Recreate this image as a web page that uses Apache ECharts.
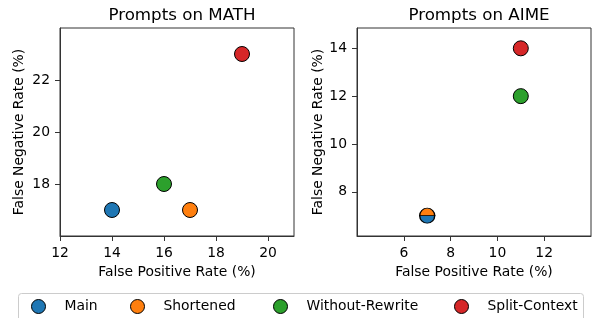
<!DOCTYPE html>
<html>
<head>
<meta charset="utf-8">
<script src="https://cdn.jsdelivr.net/npm/echarts@6/dist/echarts.min.js"></script>
<style>
    html, body { margin: 0; padding: 0; background: #fff; }
    #chart { width: 592px; height: 318px; }
</style>
</head>
<body>
<div id="chart"></div>
<script>
    // prompt variants and their colours (matplotlib tab10)
    var methods = ['Main', 'Shortened', 'Without-Rewrite', 'Split-Context'];
    var colors = ['#1f77b4', '#ff7f0e', '#2ca02c', '#d62728'];

    // MATH panel
    var mathFpr = [14, 17, 16, 19];
    var mathFnr = [17, 17, 18, 23];
    var mathXTicks = [12, 14, 16, 18, 20];
    var mathYTicks = [18, 20, 22];

    // AIME panel
    var aimeFpr = [7, 7, 11, 11];
    var aimeFnr = [7, 7, 12, 14];
    var aimeXTicks = [6, 8, 10, 12];
    var aimeYTicks = [8, 10, 12, 14];

    var font = 'DejaVu Sans';
    var axisColor = '#333';

    // half circles for points that sit on top of each other
    var topHalf = 'path://M0,10 A10,10 0 0 1 20,10 Z';
    var bottomHalf = 'path://M0,0 A10,10 0 0 0 20,0 Z';

    // left edge of each legend marker, like the matplotlib legend
    var legendLefts = [31, 130, 273, 454];

    function makeAxis(idx, min, max, ticks, name, gap) {
        return {
            type: 'value',
            gridIndex: idx,
            min: min,
            max: max,
            name: name,
            nameLocation: 'middle',
            nameGap: gap,
            nameTextStyle: { fontFamily: font, fontSize: 13.9, color: '#000' },
            axisLine: { show: true, onZero: false, lineStyle: { color: axisColor, width: 1 } },
            axisTick: { show: true, inside: false, length: 5, customValues: ticks, lineStyle: { color: axisColor } },
            axisLabel: { show: true, margin: 10, customValues: ticks, fontFamily: font, fontSize: 13.9, color: '#000' },
            splitLine: { show: false }
        };
    }

    var series = [];
    methods.forEach(function (m, i) {
        series.push({
            name: m,
            type: 'scatter',
            xAxisIndex: 0,
            yAxisIndex: 0,
            symbol: 'circle',
            symbolSize: 15,
            itemStyle: { color: colors[i], borderColor: '#000', borderWidth: 1, opacity: 1 },
            data: [[mathFpr[i], mathFnr[i]]]
        });
    });
    methods.forEach(function (m, i) {
        // Main and Shortened share the same AIME point -> split marker
        var sym = 'circle', size = 15, off = [0, 0];
        if (i === 0) { sym = bottomHalf; size = [15, 7.5]; off = [0, '50%']; }
        if (i === 1) { sym = topHalf; size = [15, 7.5]; off = [0, '-50%']; }
        series.push({
            name: m,
            type: 'scatter',
            xAxisIndex: 1,
            yAxisIndex: 1,
            symbol: sym,
            symbolSize: size,
            symbolOffset: off,
            itemStyle: { color: colors[i], borderColor: '#000', borderWidth: 1, opacity: 1 },
            data: [[aimeFpr[i], aimeFnr[i]]]
        });
    });

    // one legend per item so each entry can be placed on its own
    var legends = methods.map(function (m, i) {
        return {
            left: legendLefts[i],
            top: 299,
            padding: 0,
            itemWidth: 14,
            itemHeight: 14,
            data: [{ name: m, icon: 'circle' }],
            itemStyle: { borderColor: '#000', borderWidth: 1 },
            textStyle: { fontFamily: font, fontSize: 13.9, color: '#000', padding: [0, 0, 0, 14] }
        };
    });

    var chart = echarts.init(document.getElementById('chart'), null, { renderer: 'canvas' });
    var option = {
        animation: false,
        backgroundColor: '#fff',
        title: [
            { text: 'Prompts on MATH', left: 177, top: 2, textAlign: 'center',
              textStyle: { fontFamily: font, fontSize: 16.7, fontWeight: 'normal', color: '#000' } },
            { text: 'Prompts on AIME', left: 474, top: 2, textAlign: 'center',
              textStyle: { fontFamily: font, fontSize: 16.7, fontWeight: 'normal', color: '#000' } }
        ],
        grid: [
            { left: 60, top: 28, width: 234, height: 208, show: true, borderColor: axisColor, borderWidth: 1, backgroundColor: 'transparent' },
            { left: 357, top: 28, width: 234, height: 208, show: true, borderColor: axisColor, borderWidth: 1, backgroundColor: 'transparent' }
        ],
        xAxis: [
            makeAxis(0, 12, 21, mathXTicks, 'False Positive Rate (%)', 29),
            makeAxis(1, 4, 14, aimeXTicks, 'False Positive Rate (%)', 29)
        ],
        yAxis: [
            makeAxis(0, 16, 24, mathYTicks, 'False Negative Rate (%)', 34),
            makeAxis(1, 6.15, 14.85, aimeYTicks, 'False Negative Rate (%)', 27)
        ],
        legend: legends,
        graphic: [{
            // legend frame
            type: 'rect',
            silent: true,
            shape: { x: 18.5, y: 293.5, width: 565, height: 40, r: 3 },
            style: { fill: 'none', stroke: '#ccc', lineWidth: 1 }
        }],
        series: series
    };
    chart.setOption(option);
</script>
</body>
</html>
